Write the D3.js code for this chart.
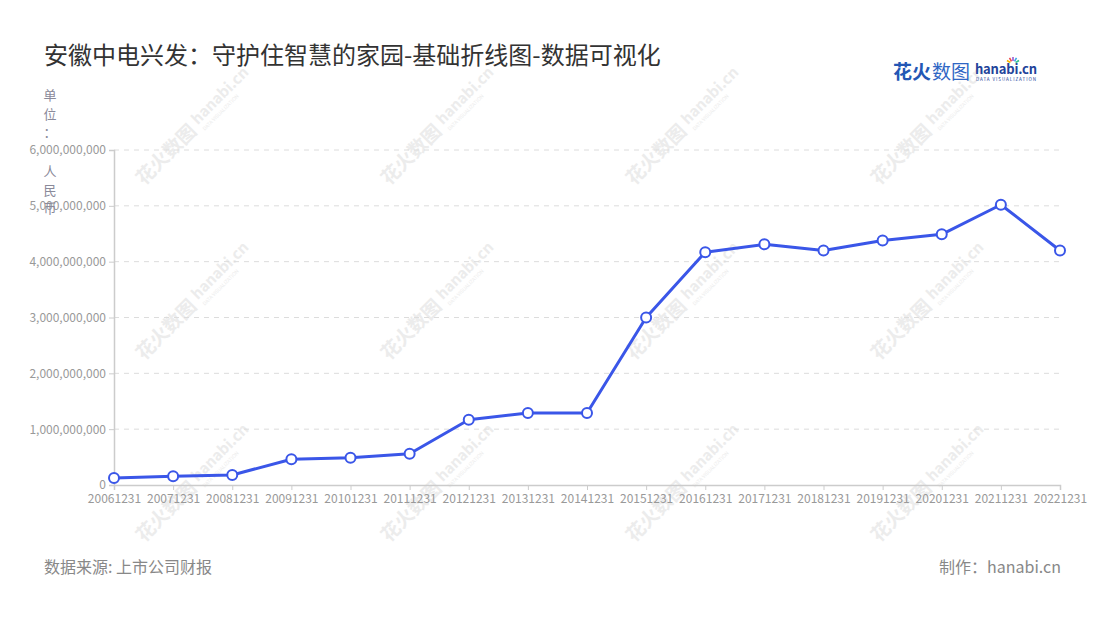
<!DOCTYPE html>
<html>
<head>
<meta charset="utf-8">
<script src="https://cdn.jsdelivr.net/npm/d3@7"></script>
<style>
  body { margin: 0; background: #fff; }
  svg { font-family: "Noto Sans CJK SC", "Noto Sans", sans-serif; display: block; }
</style>
</head>
<body>
<script>
const width = 1100
const height = 620
const margin = { left: 114, right: 1060, top: 150, bottom: 485 }

// data (人民币)
const periods = ['20061231', '20071231', '20081231', '20091231', '20101231', '20111231', '20121231', '20131231', '20141231',
                 '20151231', '20161231', '20171231', '20181231', '20191231', '20201231', '20211231', '20221231']
const revenue = [125e6, 155e6, 180e6, 460e6, 490e6, 560e6, 1170e6, 1290e6, 1290e6,
                 3000e6, 4170e6, 4310e6, 4200e6, 4380e6, 4490e6, 5020e6, 4200e6]
const yTicks = [0, 1e9, 2e9, 3e9, 4e9, 5e9, 6e9]
const unitChars = ['单', '位', '：', '', '人', '民', '币']

const lineColor = '#3a56e8'
const fmt = d3.format(',')

const svg = d3.select('body')
        .append('svg')
        .attr('width', width)
        .attr('height', height)

// watermarks
const wmCols = [180, 425, 670, 915]
const wmRows = [140, 315, 497]
wmRows.forEach(cy => {
    wmCols.forEach(cx => {
        const g = svg.append('g')
                .attr('transform', `translate(${cx},${cy}) rotate(-45)`)
                .attr('fill', '#ececec')
        g.append('text')
                .text('花火数图')
                .attr('x', -58)
                .attr('y', 7)
                .attr('font-size', '19px')
                .attr('font-weight', 'bold')
        g.append('text')
                .text('hanabi.cn')
                .attr('x', 23)
                .attr('y', 2)
                .attr('font-size', '15px')
                .attr('font-weight', 'bold')
        g.append('text')
                .text('DATA VISUALIZATION')
                .attr('x', 24)
                .attr('y', 11)
                .attr('font-size', '5px')
    })
})

// title
svg.append('text')
        .text('安徽中电兴发：守护住智慧的家园-基础折线图-数据可视化')
        .attr('x', 44)
        .attr('y', 64)
        .attr('font-size', '24px')
        .attr('fill', '#333')

// logo
svg.append('text')
        .text('花火')
        .attr('x', 893)
        .attr('y', 79)
        .attr('font-size', '19px')
        .attr('font-weight', 'bold')
        .attr('fill', '#2357b5')
svg.append('text')
        .text('数图')
        .attr('x', 932)
        .attr('y', 79)
        .attr('font-size', '19px')
        .attr('fill', '#2f66c4')
svg.append('text')
        .text('hanabi.cn')
        .attr('x', 975)
        .attr('y', 74)
        .attr('font-size', '13px')
        .attr('font-weight', 'bold')
        .attr('fill', '#22439a')
        .attr('textLength', 62)
svg.append('text')
        .text('DATA VISUALIZATION')
        .attr('x', 976)
        .attr('y', 81)
        .attr('font-size', '4.5px')
        .attr('fill', '#22439a')
        .attr('textLength', 60)
const sparkColors = ['#f7b500', '#ef4b4b', '#9b59d0', '#3aa7e8', '#36c28a']
sparkColors.forEach((c, i) => {
    const a = -150 + i * 30
    svg.append('line')
        .attr('x1', 1013 + Math.cos(a * Math.PI / 180) * 3)
        .attr('y1', 64 + Math.sin(a * Math.PI / 180) * 3)
        .attr('x2', 1013 + Math.cos(a * Math.PI / 180) * 7)
        .attr('y2', 64 + Math.sin(a * Math.PI / 180) * 7)
        .attr('stroke', c)
        .attr('stroke-width', 1.6)
})

// scales
const xScale = d3.scalePoint()
        .domain(periods)
        .range([margin.left, margin.right])

const yScale = d3.scaleLinear()
        .domain([0, 6e9])
        .range([margin.bottom, margin.top])

// grid
svg.append('g')
        .selectAll('line')
        .data(yTicks.slice(1))
        .join('line')
        .attr('x1', margin.left)
        .attr('x2', margin.right)
        .attr('y1', d => yScale(d))
        .attr('y2', d => yScale(d))
        .attr('stroke', '#dcdcdc')
        .attr('stroke-dasharray', '5,5')

// y axis
const yAxis = d3.axisLeft(yScale)
        .tickValues(yTicks)
        .tickFormat(fmt)
        .tickSize(5)
        .tickPadding(3)

const yG = svg.append('g')
        .attr('transform', `translate(${margin.left},0)`)
        .call(yAxis)
yG.select('.domain').attr('stroke', '#ccc').attr('stroke-width', 1.5)
yG.selectAll('.tick line').attr('stroke', '#ccc')
yG.selectAll('.tick text')
        .attr('fill', '#999')
        .attr('font-size', '12px')
        .attr('font-family', '"Noto Sans CJK SC", sans-serif')

// x axis
const xAxis = d3.axisBottom(xScale)
        .tickSize(5)
        .tickPadding(4)

const xG = svg.append('g')
        .attr('transform', `translate(0,${margin.bottom})`)
        .call(xAxis)
xG.select('.domain').attr('stroke', '#ccc').attr('stroke-width', 1.5)
xG.selectAll('.tick line').attr('stroke', '#ccc')
xG.selectAll('.tick text')
        .attr('fill', '#999')
        .attr('font-size', '12px')
        .attr('font-family', '"Noto Sans CJK SC", sans-serif')

// unit label, vertical
svg.append('g')
        .selectAll('text')
        .data(unitChars)
        .join('text')
        .text(d => d)
        .attr('x', 50)
        .attr('y', (d, i) => 100 + i * 18.7 + (i >= 3 ? 1 : 0))
        .attr('text-anchor', 'middle')
        .attr('font-size', '13px')
        .attr('fill', '#8a8a9a')

// line
const line = d3.line()
        .x((d, i) => xScale(periods[i]))
        .y(d => yScale(d))

svg.append('path')
        .datum(revenue)
        .attr('d', line)
        .attr('fill', 'none')
        .attr('stroke', lineColor)
        .attr('stroke-width', 3)
        .attr('stroke-linejoin', 'round')

svg.append('g')
        .selectAll('circle')
        .data(revenue)
        .join('circle')
        .attr('cx', (d, i) => xScale(periods[i]))
        .attr('cy', d => yScale(d))
        .attr('r', 5)
        .attr('fill', '#fff')
        .attr('stroke', lineColor)
        .attr('stroke-width', 2)

// footer
svg.append('text')
        .text('数据来源: 上市公司财报')
        .attr('x', 44)
        .attr('y', 573)
        .attr('font-size', '16px')
        .attr('fill', '#888')

svg.append('text')
        .text('制作：hanabi.cn')
        .attr('x', 1061)
        .attr('y', 573)
        .attr('text-anchor', 'end')
        .attr('font-size', '16px')
        .attr('fill', '#888')
</script>
</body>
</html>
